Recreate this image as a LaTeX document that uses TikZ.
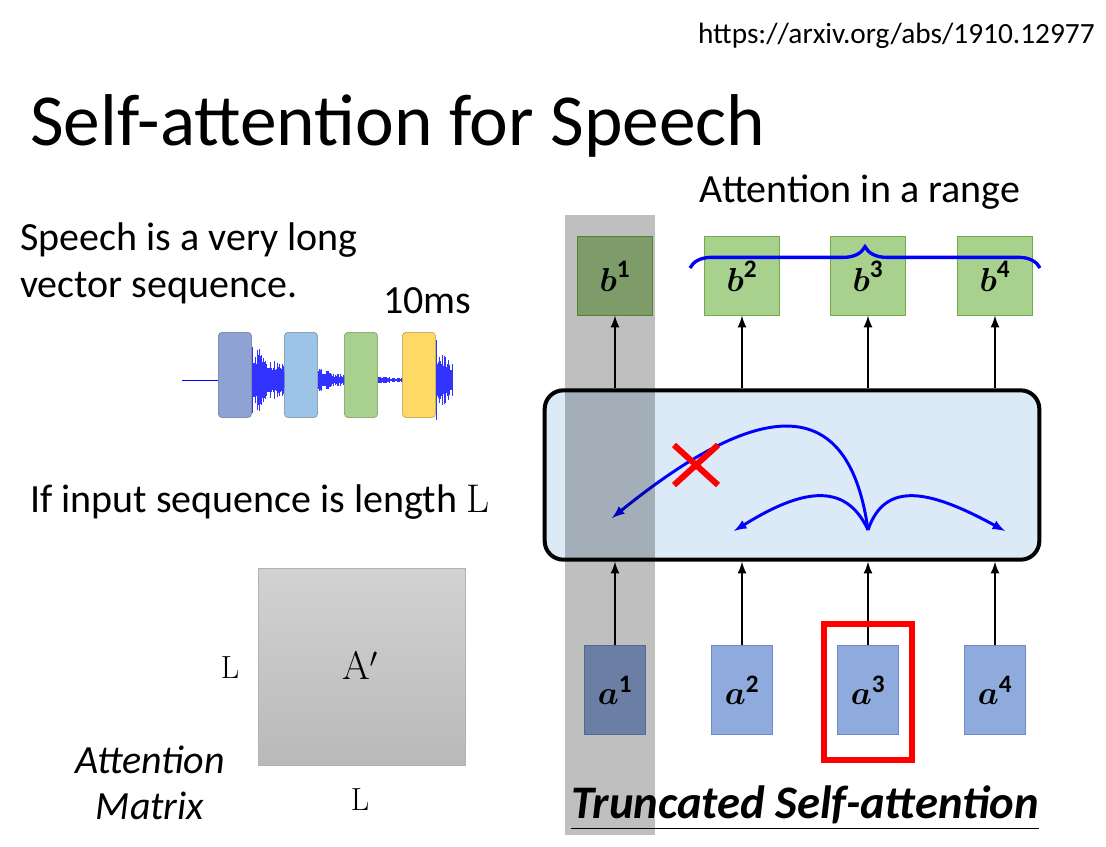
\documentclass[tikz,border=0pt]{standalone}
\usepackage{fontspec}
\setmainfont{Carlito}
\newfontfamily\lmserif{Latin Modern Roman}
\usepackage{amsmath}
\usetikzlibrary{decorations.pathreplacing,calc}
\definecolor{vecblue}{HTML}{8FAADC}
\definecolor{vecgreen}{HTML}{A9D18E}
\definecolor{brdblue}{HTML}{6F8CC8}
\definecolor{brdgreen}{HTML}{70AD47}
\definecolor{layerfill}{HTML}{DCE9F6}
\tikzset{
  vecin/.style={draw=brdblue,fill=vecblue,minimum width=46pt,minimum height=67pt,inner sep=0pt,font=\fontsize{27}{27}\selectfont},
  vecout/.style={draw=brdgreen,fill=vecgreen,minimum width=56pt,minimum height=59pt,inner sep=0pt,font=\fontsize{27}{27}\selectfont},
  frame/.style={rounded corners=3pt,draw,minimum width=25pt,minimum height=64pt,inner sep=0pt},
  up/.style={-latex,line width=2pt},
  att/.style={-latex,blue,line width=2.2pt},
  body/.style={font=\fontsize{30}{30}\selectfont,anchor=base west}
}
\begin{document}
\begin{tikzpicture}[x=0.75pt,y=-0.75pt]
  \useasboundingbox (0,0) rectangle (1106,846);
  \node[anchor=base east,font=\fontsize{22}{22}\selectfont,inner sep=0pt] (url) at (1095,43) {https://arxiv.org/abs/1910.12977};
  \node[anchor=base west,font=\fontsize{55}{55}\selectfont,inner sep=0pt] (title) at (30,145) {Self-attention for Speech};

  % left part
  \node[body,inner sep=0pt] (t1) at (20,250) {Speech is a very long};
  \node[body,inner sep=0pt] (t2) at (20,297) {vector sequence.};
  \node[body,inner sep=0pt] (ten) at (383,313) {10ms};
  \draw[blue,line width=0.6pt] (182,380) -- (218,380);
  \pgfmathsetseed{7}
  \foreach \xa/\xb/\amp in {252/284/36,318/344/12,378/402/4,436/452/40}{
    \foreach \x in {\xa,...,\xb}{
      \pgfmathsetmacro{\env}{\amp*(1-0.6*(\x-\xa)/(\xb-\xa+1))*(0.4+0.6*rnd)}
      \draw[blue!80,line width=0.7pt] (\x,380-\env) -- (\x,380+\env);
    }
  }
  \foreach \xl/\col/\name in {218/8FA2D4/f1,284/9DC3E6/f2,344/A9D18E/f3,402/FFD966/f4}{
    \definecolor{fc}{HTML}{\col}
    \node[frame,fill=fc,draw=fc!70!black,anchor=north west] (\name) at (\xl,332) {};
  }
  \node[body,inner sep=0pt] (t3) at (30,512) {If input sequence is length {\lmserif L}};
  \shade[top color=gray!35,bottom color=gray!55,draw=gray!60] (258,568) rectangle (465,765);
  \node[font=\lmserif\fontsize{30}{30}\selectfont] (amat) at (360,665) {A$'$};
  \node[font=\lmserif\fontsize{24}{24}\selectfont] (lrow) at (230,668) {L};
  \node[font=\lmserif\fontsize{24}{24}\selectfont] (lcol) at (360,800) {L};
  \node[font=\itshape\fontsize{30}{30}\selectfont] (atm) at (150,760) {Attention};
  \node[font=\itshape\fontsize{30}{30}\selectfont] (mtx) at (150,806) {Matrix};

  % right part
  \node[draw,line width=3pt,rounded corners=14pt,fill=layerfill,minimum width=371pt,minimum height=127pt] (layer) at (792,475) {};
  \foreach \i/\x in {1/615,2/742,3/868,4/995}{
    \node[vecout] (b\i) at (\x,276) {$\boldsymbol{b}^{\mathbf{\i}}$};
    \node[vecin] (a\i) at (\x,690) {$\boldsymbol{a}^{\mathbf{\i}}$};
    \draw[up] (a\i.north) -- (a\i.north |- layer.south);
    \draw[up] (b\i.south |- layer.north) -- (b\i.south);
  }
  \coordinate (src) at (868,530);
  \coordinate (t1p) at (612,518);
  \coordinate (t2p) at (734,531);
  \coordinate (t4p) at (1005,531);
  \draw[att] (src) .. controls (850,400) and (770,390) .. (t1p);
  \draw[att] (src) .. controls (845,480) and (800,490) .. (t2p);
  \draw[att] (src) .. controls (885,480) and (930,490) .. (t4p);
  \draw[red,line width=4.5pt] (674,445) -- (718,485) (674,485) -- (718,445);
  \draw[red,line width=4pt] (824,624) rectangle (912,760);
  \draw[decorate,decoration={brace,amplitude=16pt},blue,line width=2.5pt] (690,268) -- (1040,268);
  \node[font=\fontsize{30}{30}\selectfont] (range) at (860,192) {Attention in a range};
  \node[font=\bfseries\itshape\fontsize{35}{35}\selectfont] (trunc) at (805,808) {\underline{Truncated Self-attention}};
  % truncation window
  \fill[black,opacity=0.25] (565,215) rectangle (655,835);
\end{tikzpicture}
\end{document}
